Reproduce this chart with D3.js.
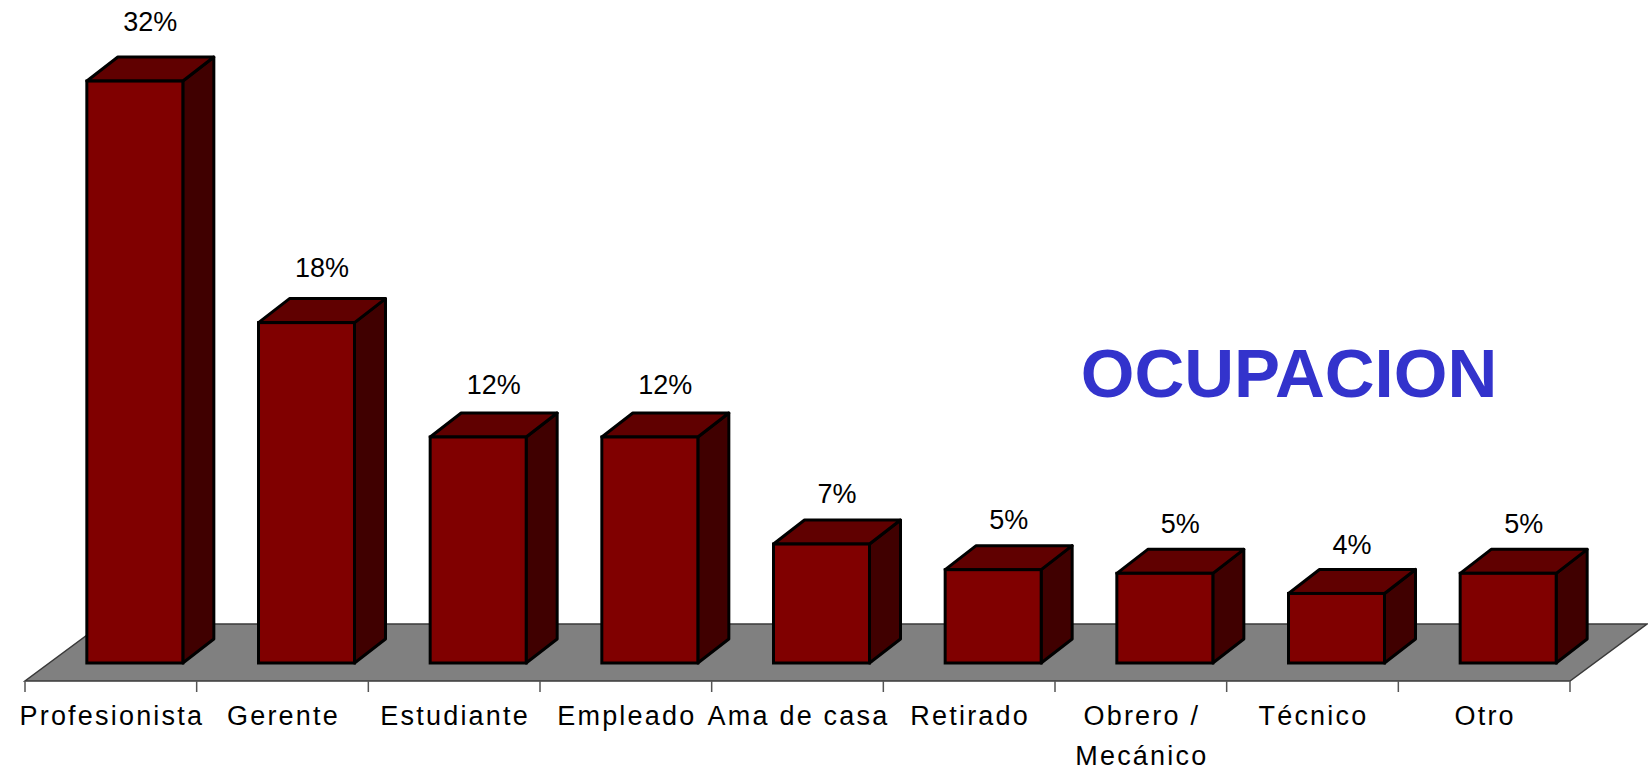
<!DOCTYPE html>
<html>
<head>
<meta charset="utf-8">
<script src="https://cdn.jsdelivr.net/npm/d3@7"></script>
<style>
  html, body { margin: 0; padding: 0; background: #ffffff; }
  svg { display: block; }
</style>
</head>
<body>
<svg id="chart" width="1648" height="770"></svg>
<script>
// ---- data ----
const categories = ["Profesionista", "Gerente", "Estudiante", "Empleado", "Ama de casa", "Retirado", "Obrero / Mecánico", "Técnico", "Otro"];
const values = [31.8, 18.6, 12.35, 12.35, 6.5, 5.1, 4.9, 3.8, 4.9];
const valueLabels = ["32%", "18%", "12%", "12%", "7%", "5%", "5%", "4%", "5%"];
const title = "OCUPACION";

// ---- layout ----
const svg = d3.select("#chart");

const x = d3.scaleBand().domain(categories).range([25, 1570]).paddingInner(0).paddingOuter(0);
const y = d3.scaleLinear().domain([0, 35]).range([663, 663 - 35 * 18.3]);

const depthX = 31, depthY = 24;      // bar depth offset
const barW = 96;
const barShift = 24;                  // bars sit mid-depth on the floor
const floorFront = y(0) + 18;
const floorDX = 77, floorDY = 57;

// floor
const fx0 = x.range()[0], fx1 = x.range()[1];
svg.append("polygon")
  .attr("points", [
    [fx0, floorFront], [fx1, floorFront],
    [fx1 + floorDX, floorFront - floorDY], [fx0 + floorDX, floorFront - floorDY]
  ].map(p => p.join(",")).join(" "))
  .attr("fill", "#808080")
  .attr("stroke", "#3a3a3a")
  .attr("stroke-width", 1.5);

// ticks at band boundaries
const tickXs = categories.map(c => x(c)).concat([fx1]);
svg.append("g").selectAll("line").data(tickXs).join("line")
  .attr("x1", d => d).attr("x2", d => d)
  .attr("y1", floorFront).attr("y2", floorFront + 11)
  .attr("stroke", "#555").attr("stroke-width", 1.5);

// bars
const bars = svg.append("g").selectAll("g").data(categories.map((c, i) => ({ c, v: values[i], lab: valueLabels[i] })))
  .join("g");

bars.each(function(d) {
  const g = d3.select(this);
  const x0 = x(d.c) + (x.bandwidth() - barW) / 2 + barShift;
  const x1 = x0 + barW;
  const yt = y(d.v), yb = y(0);
  // side
  g.append("polygon")
    .attr("points", [[x1, yt], [x1 + depthX, yt - depthY], [x1 + depthX, yb - depthY], [x1, yb]].map(p => p.join(",")).join(" "))
    .attr("fill", "#400000").attr("stroke", "#000").attr("stroke-width", 3).attr("stroke-linejoin", "round");
  // top
  g.append("polygon")
    .attr("points", [[x0, yt], [x0 + depthX, yt - depthY], [x1 + depthX, yt - depthY], [x1, yt]].map(p => p.join(",")).join(" "))
    .attr("fill", "#600000").attr("stroke", "#000").attr("stroke-width", 3).attr("stroke-linejoin", "round");
  // front
  g.append("rect")
    .attr("x", x0).attr("y", yt).attr("width", barW).attr("height", yb - yt)
    .attr("fill", "#800000").attr("stroke", "#000").attr("stroke-width", 3);
  // value label
  g.append("text")
    .attr("x", (x0 + x1) / 2 + depthX / 2)
    .attr("y", yt - depthY - (14.5 + 0.36 * d.v))
    .attr("text-anchor", "middle")
    .attr("font-family", "'Liberation Sans', Arial, sans-serif")
    .attr("font-size", 27)
    .attr("fill", "#000")
    .text(d.lab);
});

// category labels
const labels = svg.append("g").selectAll("text").data(categories).join("text")
  .attr("x", d => x(d) + x.bandwidth() / 2 + 1)
  .attr("y", 725)
  .attr("text-anchor", "middle")
  .attr("font-family", "'Liberation Sans', Arial, sans-serif")
  .attr("font-size", 27)
  .attr("letter-spacing", "2.2px")
  .attr("fill", "#000");

labels.each(function(d) {
  const t = d3.select(this);
  const parts = d === "Obrero / Mecánico" ? ["Obrero /", "Mecánico"] : [d];
  parts.forEach((p, i) => {
    t.append("tspan")
      .attr("x", x(d) + x.bandwidth() / 2 + 1)
      .attr("dy", i === 0 ? 0 : 40)
      .text(p);
  });
});

// title
svg.append("text")
  .attr("x", 1289)
  .attr("y", 397)
  .attr("text-anchor", "middle")
  .attr("font-family", "'Liberation Sans', Arial, sans-serif")
  .attr("font-weight", "bold")
  .attr("font-size", 69)
  .attr("fill", "#3333CC")
  .text(title);
</script>
</body>
</html>
